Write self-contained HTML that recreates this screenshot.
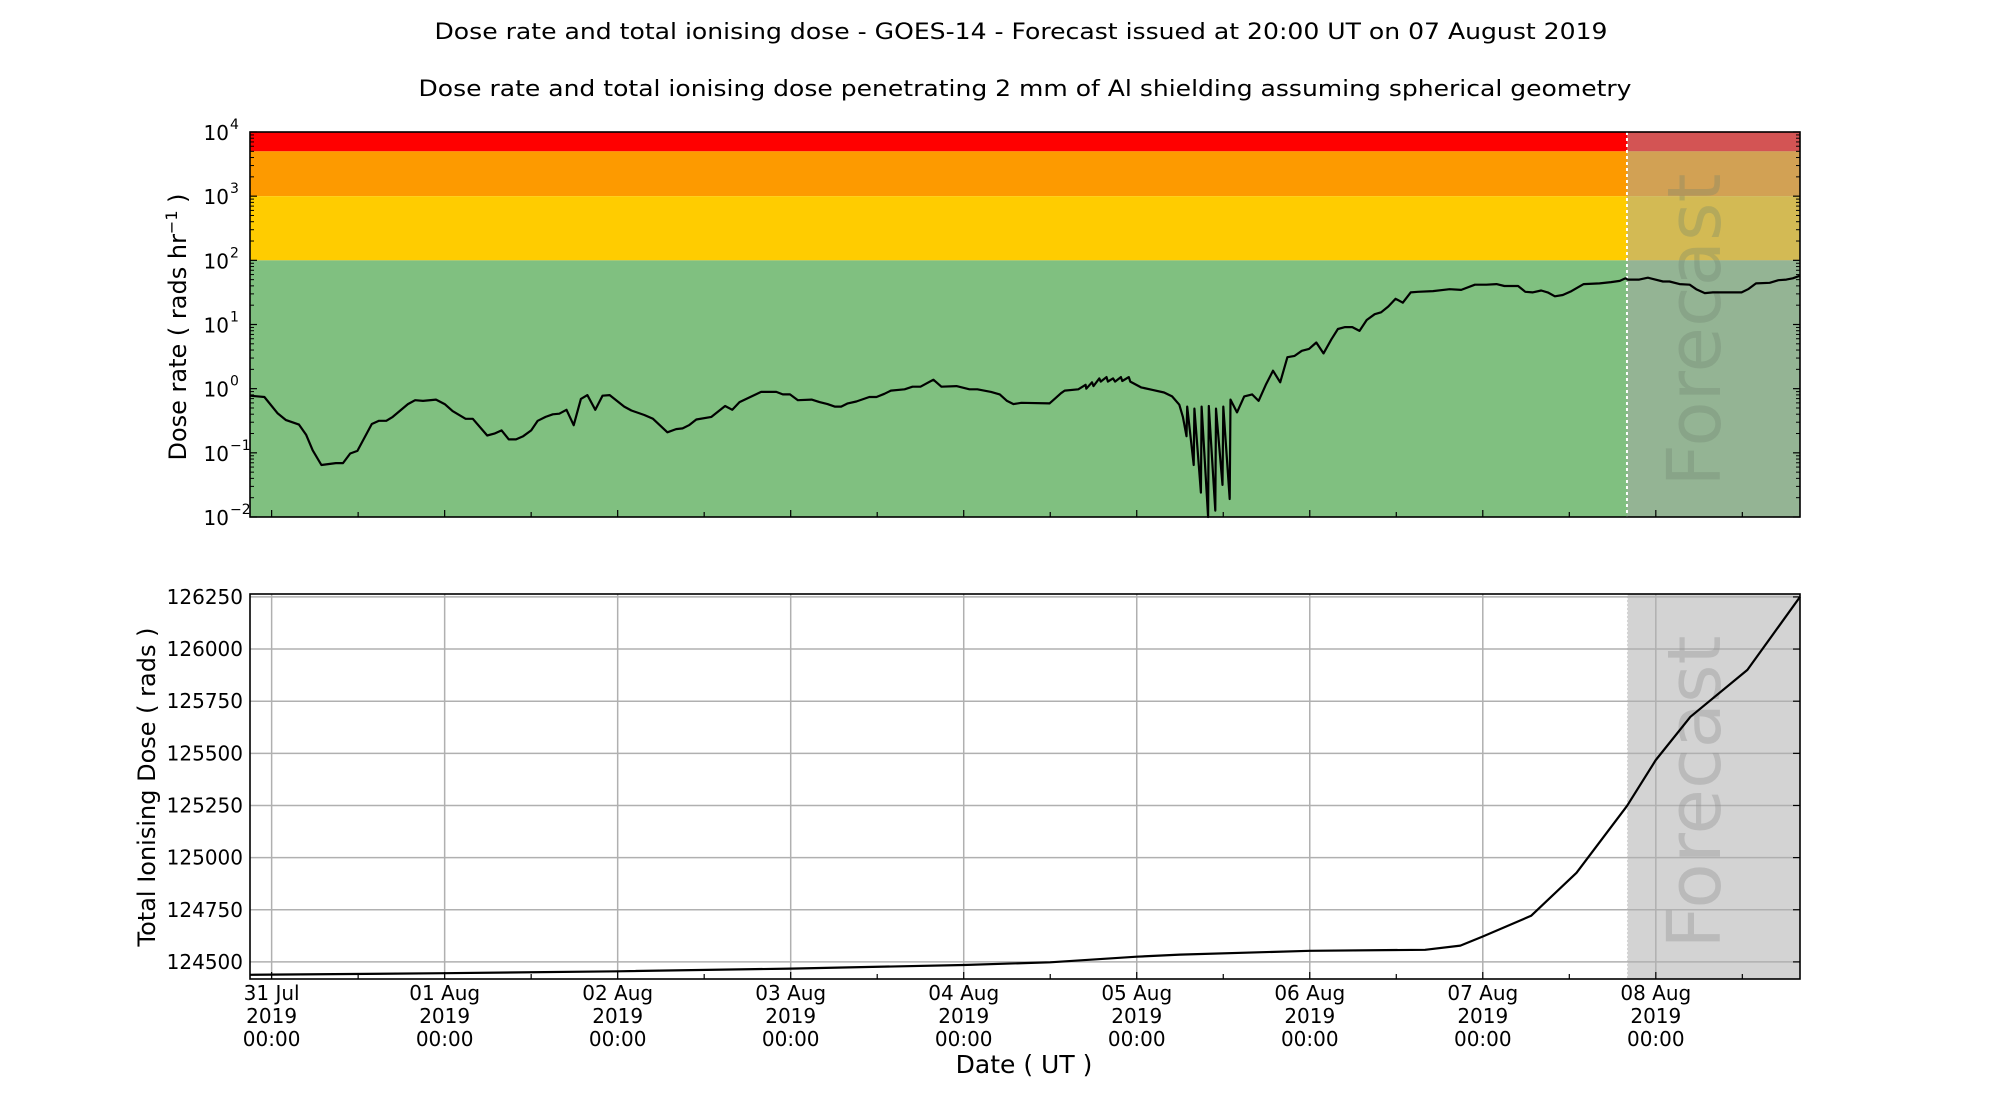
<!DOCTYPE html>
<html><head><meta charset="utf-8"><style>
html,body{margin:0;padding:0;background:#fff;}
svg{display:block;font-family:"DejaVu Sans","Liberation Sans",sans-serif;}
</style></head><body>
<svg id="fig" width="2000" height="1100" viewBox="0 0 2000 1100" xmlns="http://www.w3.org/2000/svg">
<text x="1021" y="39" text-anchor="middle" font-size="22" textLength="1173" lengthAdjust="spacingAndGlyphs">Dose rate and total ionising dose - GOES-14 - Forecast issued at 20:00 UT on 07 August 2019</text>
<text x="1025" y="96" text-anchor="middle" font-size="22" textLength="1213" lengthAdjust="spacingAndGlyphs">Dose rate and total ionising dose penetrating 2 mm of Al shielding assuming spherical geometry</text>
<g id="topPanel"></g>
<g id="botPanel"></g>
<text x="1024" y="1073" text-anchor="middle" font-size="25">Date ( UT )</text>
</svg>
<script>
// ---- data (hours since 31 Jul 2019 00:00 UT) ----
const rateHours = [-3,-1,0.8,2,3.8,4.8,5.7,6.9,8.9,9.9,10.9,11.9,13.9,14.9,15.9,16.8,18.9,19.9,21,22.8,24,25.1,26.9,27.9,29.9,30.9,31.9,32.9,33.9,34.9,36,36.9,38,39,39.9,40.9,41.9,42.9,43.8,44.9,45.9,46.9,48.9,49.9,51.7,52.9,54.9,56.1,57,57.9,58.9,61,62.9,63.9,64.9,67.9,70,70.9,71.9,73,74.9,76,77.1,78.1,79,79.9,81.1,82.9,83.9,85,85.9,87.8,88.9,90,91.8,92.9,95,96.8,97.9,99.8,101,102,102.9,104,107.9,108.7,109.5,110,111.9,112.9,113,113.8,114,114.8,115,115.8,116,116.7,117,117.8,118,118.9,119.1,120.6,122.2,123.8,124.9,125.9,126.4,126.9,127,127.9,128,128.9,129,129.9,130,130.9,131,131.9,132,132.9,133,133.9,134.9,136,136.9,137.9,138.9,139.9,140.9,141.9,142.9,143.9,144.9,145.9,147,147.9,148.9,149.9,150.9,151.9,153,153.9,154.9,155.9,156.9,158,159,161.1,163.4,165,166.9,168.5,169.9,171,172.9,173.9,174.9,176.1,177,178,179.1,180.3,181.2,182,184.2,185.8,187,187.8,188.1,189.7,190.9,193,193.9,195.3,196.7,197.6,198.8,199.9,203.9,204.8,205.9,207.8,209,210.1,211,212];
const rateLog10 = [-0.11,-0.13,-0.38,-0.49,-0.56,-0.72,-0.96,-1.19,-1.16,-1.16,-1.01,-0.97,-0.55,-0.50,-0.50,-0.44,-0.24,-0.18,-0.19,-0.17,-0.24,-0.35,-0.47,-0.47,-0.73,-0.70,-0.65,-0.79,-0.79,-0.74,-0.65,-0.50,-0.44,-0.40,-0.39,-0.33,-0.57,-0.16,-0.10,-0.33,-0.11,-0.10,-0.28,-0.34,-0.41,-0.47,-0.68,-0.63,-0.62,-0.57,-0.48,-0.44,-0.27,-0.33,-0.21,-0.05,-0.05,-0.09,-0.09,-0.18,-0.17,-0.21,-0.24,-0.28,-0.28,-0.23,-0.20,-0.13,-0.13,-0.08,-0.03,-0.01,0.03,0.03,0.14,0.03,0.04,-0.01,-0.01,-0.05,-0.09,-0.19,-0.24,-0.22,-0.23,-0.15,-0.07,-0.03,-0.01,0.06,0.0,0.10,0.04,0.16,0.11,0.18,0.11,0.16,0.11,0.18,0.12,0.18,0.11,0.02,-0.02,-0.06,-0.12,-0.25,-0.44,-0.74,-0.28,-1.19,-0.31,-1.62,-0.28,-2.1,-0.27,-1.90,-0.31,-1.50,-0.28,-1.72,-0.17,-0.37,-0.12,-0.09,-0.19,0.06,0.28,0.10,0.49,0.51,0.59,0.62,0.72,0.55,0.77,0.93,0.96,0.96,0.90,1.07,1.16,1.19,1.28,1.40,1.34,1.50,1.51,1.52,1.55,1.54,1.62,1.62,1.63,1.60,1.60,1.51,1.50,1.53,1.50,1.44,1.46,1.52,1.58,1.63,1.64,1.66,1.68,1.72,1.70,1.70,1.73,1.67,1.67,1.63,1.62,1.55,1.49,1.50,1.50,1.55,1.64,1.65,1.69,1.70,1.72,1.76];
const doseHours = [-3,24,48,72,96,108,120,126,144,160,164.9,168,174.7,181,188,192,196.8,204.7,212];
const doseValues = [124438,124446,124455,124468,124485,124498,124525,124535,124553,124558,124578,124622,124721,124927,125248,125468,125675,125900,126250];
const rateTickLabels = ["4","3","2","1","0","\u22121","\u22122"];
const doseTicks = [124500,124750,125000,125250,125500,125750,126000,126250];
const dayLabels = ["31 Jul","01 Aug","02 Aug","03 Aug","04 Aug","05 Aug","06 Aug","07 Aug","08 Aug"];
const forecastHour = 188;

const NS="http://www.w3.org/2000/svg";
function mk(parent,tag,attrs,text){const e=document.createElementNS(NS,tag);for(const k in attrs)e.setAttribute(k,attrs[k]);if(text!==undefined)e.textContent=text;parent.appendChild(e);return e;}
const X0=250,X1=1800,HMIN=-3,HMAX=212;
const xs=h=>X0+(h-HMIN)*(X1-X0)/(HMAX-HMIN);
const T0=132,T1=517;
const yLog=l=>T0+(4-l)*(T1-T0)/6;
const B0=594,B1=979,VMIN=124418,VMAX=126264;
const yDose=v=>B1-(v-VMIN)*(B1-B0)/(VMAX-VMIN);
const fx=xs(forecastHour);

// ---- top panel ----
const topG=document.getElementById('topPanel');
const bands=[[4,Math.log10(5000),'#ff0000','band-red'],[Math.log10(5000),3,'#fd9a00','band-orange'],[3,2,'#ffcc00','band-yellow'],[2,-2,'#80c080','band-green']];
bands.forEach(b=>{const r=mk(topG,'rect',{x:X0,y:yLog(b[0]),width:X1-X0,height:yLog(b[1])-yLog(b[0]),fill:b[2]});

});
const fr=mk(topG,'rect',{x:fx,y:T0,width:X1-fx,height:T1-T0,fill:'rgba(168,168,168,0.5)'});


const fl=mk(topG,'line',{x1:fx,y1:T0,x2:fx,y2:T1,stroke:'#fff','stroke-width':2,'stroke-dasharray':'3,3'});


const ft=mk(topG,'text',{x:0,y:0,'font-size':74,fill:'rgba(110,130,110,0.3)','text-anchor':'middle',transform:'translate(1720,330) rotate(-90)'},'Forecast');


const nR=Math.min(rateHours.length,rateLog10.length);
const rpts=[];
for(let i=0;i<nR;i++){rpts.push(xs(rateHours[i]).toFixed(1)+','+Math.min(yLog(rateLog10[i]),T1).toFixed(1));}
const rp=mk(topG,'polyline',{points:rpts.join(' '),fill:'none',stroke:'#000','stroke-width':2.2,'stroke-linejoin':'round'});


for(let d=-2;d<=4;d++){
  const y=yLog(d);
  mk(topG,'line',{x1:X0,y1:y,x2:X0+7,y2:y,stroke:'#000','stroke-width':1.2});
  mk(topG,'line',{x1:X1,y1:y,x2:X1-7,y2:y,stroke:'#000','stroke-width':1.2});
  if(d<4)for(let m=2;m<=9;m++){const yy=yLog(d+Math.log10(m));
    mk(topG,'line',{x1:X0,y1:yy,x2:X0+4,y2:yy,stroke:'#000','stroke-width':1});
    mk(topG,'line',{x1:X1,y1:yy,x2:X1-4,y2:yy,stroke:'#000','stroke-width':1});}
}
rateTickLabels.forEach((s,i)=>{const y=yLog(4-i);
  const t=mk(topG,'text',{x:229,y:y+8,'font-size':20,'text-anchor':'end'},'10');
  
  
  mk(topG,'text',{x:230,y:y-3,'font-size':14},s);});
for(let h=0;h<=HMAX;h+=12){const x=xs(h);mk(topG,'line',{x1:x,y1:T1,x2:x,y2:T1-(h%24?5:7),stroke:'#000','stroke-width':1.2});}
mk(topG,'rect',{x:X0,y:T0,width:X1-X0,height:T1-T0,fill:'none',stroke:'#000','stroke-width':1.6});
const yl=mk(topG,'text',{x:0,y:0,'font-size':24,'text-anchor':'middle',transform:'translate(186,327) rotate(-90)'});


mk(yl,'tspan',{},'Dose rate ( rads hr');mk(yl,'tspan',{'font-size':16,dy:-9},'\u22121');mk(yl,'tspan',{dy:9},' )');

// ---- bottom panel ----
const botG=document.getElementById('botPanel');
const fb=mk(botG,'rect',{x:fx,y:B0,width:X1-fx,height:B1-B0,fill:'#d3d3d3'});


const fbl=mk(botG,'line',{x1:fx,y1:B0,x2:fx,y2:B1,stroke:'#fff','stroke-width':1.5,'stroke-dasharray':'2,2'});


doseTicks.forEach(v=>{const y=yDose(v);
  mk(botG,'line',{x1:X0,y1:y,x2:X1,y2:y,stroke:'#b0b0b0','stroke-width':1.5});
  mk(botG,'line',{x1:X1,y1:y,x2:X1-7,y2:y,stroke:'#000','stroke-width':1.2});
  const t=mk(botG,'text',{x:243,y:y+7,'font-size':20,'text-anchor':'end'},String(v));
  
  });
dayLabels.forEach((s,i)=>{const x=xs(i*24);
  mk(botG,'line',{x1:x,y1:B0,x2:x,y2:B1,stroke:'#b0b0b0','stroke-width':1.5});
  const g=mk(botG,'g',{});
  
  
  mk(g,'text',{x:x,y:1000,'font-size':20,'text-anchor':'middle'},s);
  mk(g,'text',{x:x,y:1023,'font-size':20,'text-anchor':'middle'},'2019');
  mk(g,'text',{x:x,y:1046,'font-size':20,'text-anchor':'middle'},'00:00');});
for(let h=0;h<=HMAX;h+=12){const x=xs(h);mk(botG,'line',{x1:x,y1:B1,x2:x,y2:B1-(h%24?5:7),stroke:'#000','stroke-width':1.2});}
const fbt=mk(botG,'text',{x:0,y:0,'font-size':74,fill:'rgba(150,150,150,0.4)','text-anchor':'middle',transform:'translate(1720,792) rotate(-90)'},'Forecast');


const nD=Math.min(doseHours.length,doseValues.length);
const dpts=[];
for(let i=0;i<nD;i++){dpts.push(xs(doseHours[i]).toFixed(1)+','+yDose(doseValues[i]).toFixed(1));}
const dp=mk(botG,'polyline',{points:dpts.join(' '),fill:'none',stroke:'#000','stroke-width':2.2,'stroke-linejoin':'round'});


mk(botG,'rect',{x:X0,y:B0,width:X1-X0,height:B1-B0,fill:'none',stroke:'#000','stroke-width':1.6});
const yl2=mk(botG,'text',{x:0,y:0,'font-size':24,'text-anchor':'middle',transform:'translate(155,787) rotate(-90)'},'Total Ionising Dose ( rads )');


</script>
</body></html>
